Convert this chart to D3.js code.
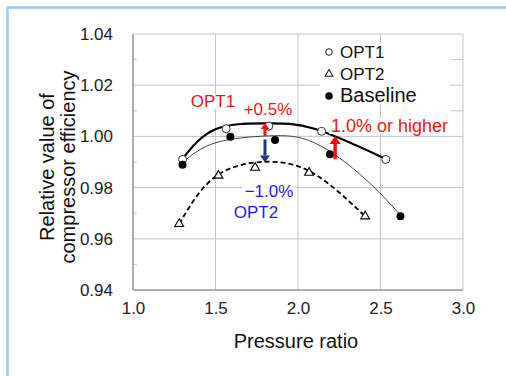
<!DOCTYPE html>
<html>
<head>
<meta charset="utf-8">
<script src="https://cdn.jsdelivr.net/npm/d3@7"></script>
<style>
  html, body { margin: 0; padding: 0; background: #fff; }
  svg { display: block; }
  text { font-family: Arial, "Liberation Sans", sans-serif; }
</style>
</head>
<body>
<div id="chart"></div>
<script>
// measured points [pressure ratio, relative efficiency]
const opt1Points = [[1.30, 0.991], [1.565, 1.003], [1.823, 1.004], [2.143, 1.002], [2.532, 0.991]];
const opt2Points = [[1.28, 0.9658], [1.518, 0.9847], [1.74, 0.9878], [2.067, 0.9858], [2.407, 0.9688]];
const basePoints = [[1.30, 0.9889], [1.59, 0.9999], [1.861, 0.9986], [2.194, 0.993], [2.621, 0.9688]];

// trend curves
const opt1Trend = [[1.30, 0.9912], [1.5, 1.0028], [1.8, 1.0051], [2.1, 1.0030], [2.532, 0.9912]];
const baseTrend = [[1.30, 0.9898], [1.5, 0.9975], [1.82, 1.0002], [2.1, 0.9975], [2.4, 0.9838], [2.621, 0.9692]];
const opt2Trend = [[1.28, 0.9658], [1.5, 0.9843], [1.81, 0.9901], [2.1, 0.9853], [2.407, 0.9688]];

const xTicks = [1.0, 1.5, 2.0, 2.5, 3.0];
const yTicks = [0.94, 0.96, 0.98, 1.00, 1.02, 1.04];
const yMinor = [0.95, 0.97, 0.99, 1.01, 1.03];

const legendItems = ['OPT1', 'OPT2', 'Baseline'];

const W = 506, H = 376;
const plot = { left: 133, right: 463, top: 34, bottom: 290 };

const svg = d3.select('#chart').append('svg').attr('width', W).attr('height', H);

// light blue frame
svg.append('rect').attr('x', 7.5).attr('y', 7.5).attr('width', W).attr('height', H)
  .attr('fill', 'none').attr('stroke', '#9ccaf6').attr('stroke-width', 2.5);

const x = d3.scaleLinear().domain([1.0, 3.0]).range([plot.left, plot.right]);
const y = d3.scaleLinear().domain([0.94, 1.04]).range([plot.bottom, plot.top]);

// grid
const grid = svg.append('g');
grid.selectAll('line.gx').data(xTicks).join('line')
  .attr('x1', d => x(d)).attr('x2', d => x(d))
  .attr('y1', plot.top).attr('y2', plot.bottom)
  .attr('stroke', '#c4c4c4').attr('stroke-width', 1);
grid.selectAll('line.gy').data(yTicks).join('line')
  .attr('x1', plot.left).attr('x2', plot.right)
  .attr('y1', d => y(d)).attr('y2', d => y(d))
  .attr('stroke', '#c4c4c4').attr('stroke-width', 1);
grid.selectAll('line.my').data(yMinor).join('line')
  .attr('x1', plot.left).attr('x2', plot.left + 4)
  .attr('y1', d => y(d)).attr('y2', d => y(d))
  .attr('stroke', '#c4c4c4').attr('stroke-width', 1);
grid.selectAll('line.myr').data(yMinor.filter(d => d > 1)).join('line')
  .attr('x1', plot.right - 12).attr('x2', plot.right)
  .attr('y1', d => y(d)).attr('y2', d => y(d))
  .attr('stroke', '#c4c4c4').attr('stroke-width', 1);

// axes frame
svg.append('line').attr('x1', plot.left).attr('x2', plot.left)
  .attr('y1', plot.top).attr('y2', plot.bottom).attr('stroke', '#9a9a9a').attr('stroke-width', 1.5);
svg.append('line').attr('x1', plot.left).attr('x2', plot.right)
  .attr('y1', plot.bottom).attr('y2', plot.bottom).attr('stroke', '#9a9a9a').attr('stroke-width', 1.5);

// tick labels via d3 axes
const xAxis = svg.append('g').attr('transform', `translate(0,${plot.bottom})`)
  .call(d3.axisBottom(x).tickValues(xTicks).tickFormat(d3.format('.1f')).tickSize(0).tickPadding(12));
const yAxis = svg.append('g').attr('transform', `translate(${plot.left},0)`)
  .call(d3.axisLeft(y).tickValues(yTicks).tickFormat(d3.format('.2f')).tickSize(0).tickPadding(20));
[xAxis, yAxis].forEach(a => {
  a.select('.domain').remove();
  a.selectAll('text').attr('font-size', 17).attr('fill', '#222')
    .attr('font-family', 'Arial, "Liberation Sans", sans-serif');
});

// axis titles
svg.append('text').attr('x', 296).attr('y', 348).attr('text-anchor', 'middle')
  .attr('font-size', 20).attr('fill', '#111').text('Pressure ratio');
const yt = svg.append('text').attr('transform', 'translate(0,167) rotate(-90)')
  .attr('text-anchor', 'middle').attr('font-size', 20).attr('fill', '#111');
yt.append('tspan').attr('x', 0).attr('y', 54).text('Relative value of');
yt.append('tspan').attr('x', 0).attr('y', 75).text('compressor efficiency');

// trend curves
const line = d3.line().x(d => x(d[0])).y(d => y(d[1])).curve(d3.curveNatural);
svg.append('path').datum(baseTrend).attr('d', line)
  .attr('fill', 'none').attr('stroke', '#444').attr('stroke-width', 1);
svg.append('path').datum(opt1Trend).attr('d', line)
  .attr('fill', 'none').attr('stroke', '#000').attr('stroke-width', 2.2);
svg.append('path').datum(opt2Trend).attr('d', line)
  .attr('fill', 'none').attr('stroke', '#000').attr('stroke-width', 1.8).attr('stroke-dasharray', '5,3');

// markers
const tri = d3.symbol().type(d3.symbolTriangle).size(34);
svg.selectAll('path.opt2').data(opt2Points).join('path')
  .attr('transform', d => `translate(${x(d[0])},${y(d[1])})`)
  .attr('d', tri).attr('fill', '#fff').attr('stroke', '#000').attr('stroke-width', 1.1);
svg.selectAll('circle.opt1').data(opt1Points).join('circle')
  .attr('cx', d => x(d[0])).attr('cy', d => y(d[1])).attr('r', 4)
  .attr('fill', '#fff').attr('stroke', '#333').attr('stroke-width', 1);
svg.selectAll('circle.base').data(basePoints).join('circle')
  .attr('cx', d => x(d[0])).attr('cy', d => y(d[1])).attr('r', 4)
  .attr('fill', '#000');

// arrows
function arrow(x0, y0, y1, color, w, head) {
  const dir = y1 < y0 ? 1 : -1;
  const g = svg.append('g');
  g.append('line').attr('x1', x0).attr('x2', x0).attr('y1', y0).attr('y2', y1 + dir * head)
    .attr('stroke', color).attr('stroke-width', w);
  g.append('path').attr('d', `M${x0 - head * 0.7},${y1 + dir * head}L${x0 + head * 0.7},${y1 + dir * head}L${x0},${y1}Z`)
    .attr('fill', color);
}
arrow(x(1.8), y(1.0002), y(1.0052), '#f01010', 3, 6);
arrow(x(1.8), y(0.9988), y(0.9898), '#1f3578', 3, 7);
arrow(x(2.225), y(0.9912), y(1.0002), '#f01010', 3.5, 8);

// text annotations with white backing
function label(tx, ty, str, color, size, anchor) {
  const t = svg.append('text').attr('x', tx).attr('y', ty).attr('text-anchor', anchor || 'middle')
    .attr('font-size', size).attr('fill', color).text(str);
  const b = t.node().getBBox();
  svg.insert('rect', () => t.node()).attr('x', b.x - 2).attr('y', b.y + 2).attr('width', b.width + 4)
    .attr('height', b.height - 4).attr('fill', '#fff');
}
label(213, 107, 'OPT1', '#f01414', 17);
label(268, 115, '+0.5%', '#f01414', 17);
label(269, 197, '\u22121.0%', '#1a1aee', 17);
label(256, 218, 'OPT2', '#1a1aee', 17);
label(331, 132, '1.0% or higher', '#f01414', 18, 'start');

// legend
svg.append('rect').attr('x', 320).attr('y', 43).attr('width', 130).attr('height', 62).attr('fill', '#fff');
const lg = svg.append('g');
lg.append('circle').attr('cx', 329).attr('cy', 52).attr('r', 3.3)
  .attr('fill', '#fff').attr('stroke', '#222').attr('stroke-width', 1);
lg.append('path').attr('transform', 'translate(329,74)').attr('d', d3.symbol().type(d3.symbolTriangle).size(26))
  .attr('fill', '#fff').attr('stroke', '#222').attr('stroke-width', 1.1);
lg.append('circle').attr('cx', 329).attr('cy', 96).attr('r', 3.8).attr('fill', '#000');
lg.selectAll('text').data(legendItems).join('text')
  .attr('x', 340).attr('y', (d, i) => [58, 80, 102][i])
  .attr('font-size', (d, i) => i === 2 ? 20 : 17).attr('fill', '#111').text(d => d);
</script>
</body>
</html>
